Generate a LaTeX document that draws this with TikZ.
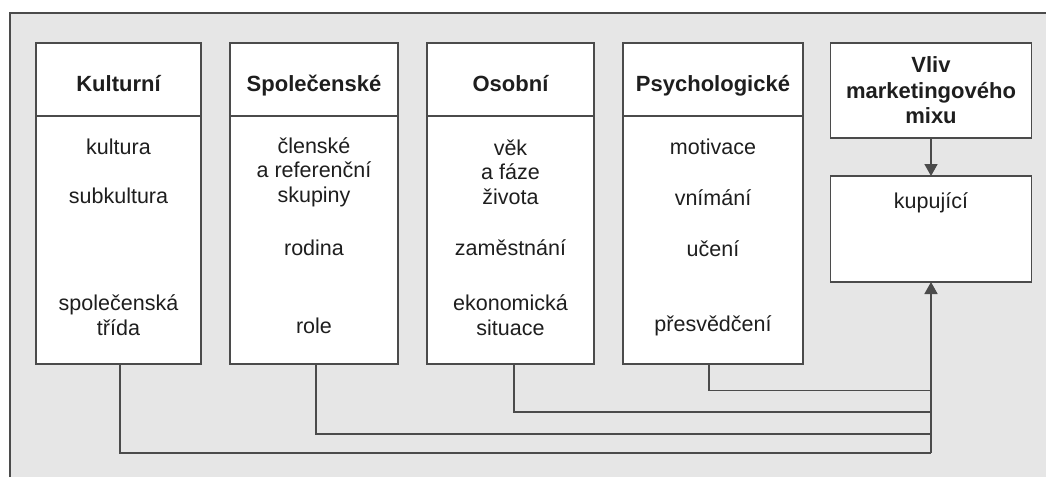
\documentclass[tikz,border=0pt]{standalone}
\usepackage{fontspec}
\setmainfont{Liberation Sans}
\usetikzlibrary{arrows.meta}
\definecolor{bggrey}{RGB}{230,230,230}
\definecolor{edge}{RGB}{75,75,75}
\definecolor{ink}{RGB}{30,30,30}

\begin{document}
\begin{tikzpicture}[x=1pt,y=-1pt,
  panel/.style={draw=edge, line width=1.7pt, fill=white, inner sep=0pt, outer sep=0pt},
  headpanel/.style={panel, font=\fontsize{22}{25}\selectfont\bfseries, text=ink,
    text height=23pt, text depth=0pt, minimum height=73pt},
  item/.style={font=\fontsize{21.5}{24.5}\selectfont, text=ink, align=center, inner sep=0pt},
  wire/.style={draw=edge, line width=1.7pt},
  feed/.style={wire, -{Triangle[length=12pt,width=13pt]}}]

\useasboundingbox (0,0) rectangle (1046,477);

% frame
\fill[bggrey] (10,13) rectangle (1046,477);
\draw[edge, line width=1.7pt] (10,477) -- (10,13) -- (1046,13);

% factor columns: header and body
\node[headpanel, minimum width=165pt] (kh) at (118.5,79.5) {Kulturní};
\node[panel, minimum width=165pt, minimum height=248pt] (kb) at (118.5,240) {};
\node[headpanel, minimum width=168pt] (sh) at (314,79.5) {Společenské};
\node[panel, minimum width=168pt, minimum height=248pt] (sb) at (314,240) {};
\node[headpanel, minimum width=167pt] (oh) at (510.5,79.5) {Osobní};
\node[panel, minimum width=167pt, minimum height=248pt] (ob) at (510.5,240) {};
\node[headpanel, minimum width=180pt] (ph) at (713,79.5) {Psychologické};
\node[panel, minimum width=180pt, minimum height=248pt] (pb) at (713,240) {};

% marketing mix and buyer
\node[panel, minimum width=201pt, minimum height=95pt, align=center,
  font=\fontsize{22}{25.5}\selectfont\bfseries, text=ink] (mix) at (931,90.5)
  {Vliv\\marketingového\\mixu};
\node[panel, minimum width=201pt, minimum height=106pt] (kup) at (931,229) {};
\node[item] (kupt) at (931,203) {kupující};

% column contents
\node[item] (k1) at (118.5,147) {kultura};
\node[item] (k2) at (118.5,196) {subkultura};
\node[item] (k3) at (118.5,315) {společenská\\třída};

\node[item] (s1) at (314,172) {členské\\a referenční\\skupiny};
\node[item] (s2) at (314,248) {rodina};
\node[item] (s3) at (314,326) {role};

\node[item] (o1) at (510.5,172) {věk\\a fáze\\života};
\node[item] (o2) at (510.5,248) {zaměstnání};
\node[item] (o3) at (510.5,315) {ekonomická\\situace};

\node[item] (p1) at (713,147) {motivace};
\node[item] (p2) at (713,198) {vnímání};
\node[item] (p3) at (713,249) {učení};
\node[item] (p4) at (713,326) {přesvědčení};

% collecting lines into the buyer
\coordinate (j1) at (931,453);
\coordinate (j2) at (931,434);
\coordinate (j3) at (931,412);
\coordinate (j4) at (931,390.5);

\draw[wire] ([xshift=1.5pt]kb.south) |- (j1);
\draw[wire] ([xshift=2pt]sb.south) |- (j2);
\draw[wire] ([xshift=3.5pt]ob.south) |- (j3);
\draw[wire] ([xshift=-4pt]pb.south) |- (j4);
\draw[feed] (j1) -- (kup.south);
\draw[feed] (mix.south) -- (kup.north);
\end{tikzpicture}
\end{document}
